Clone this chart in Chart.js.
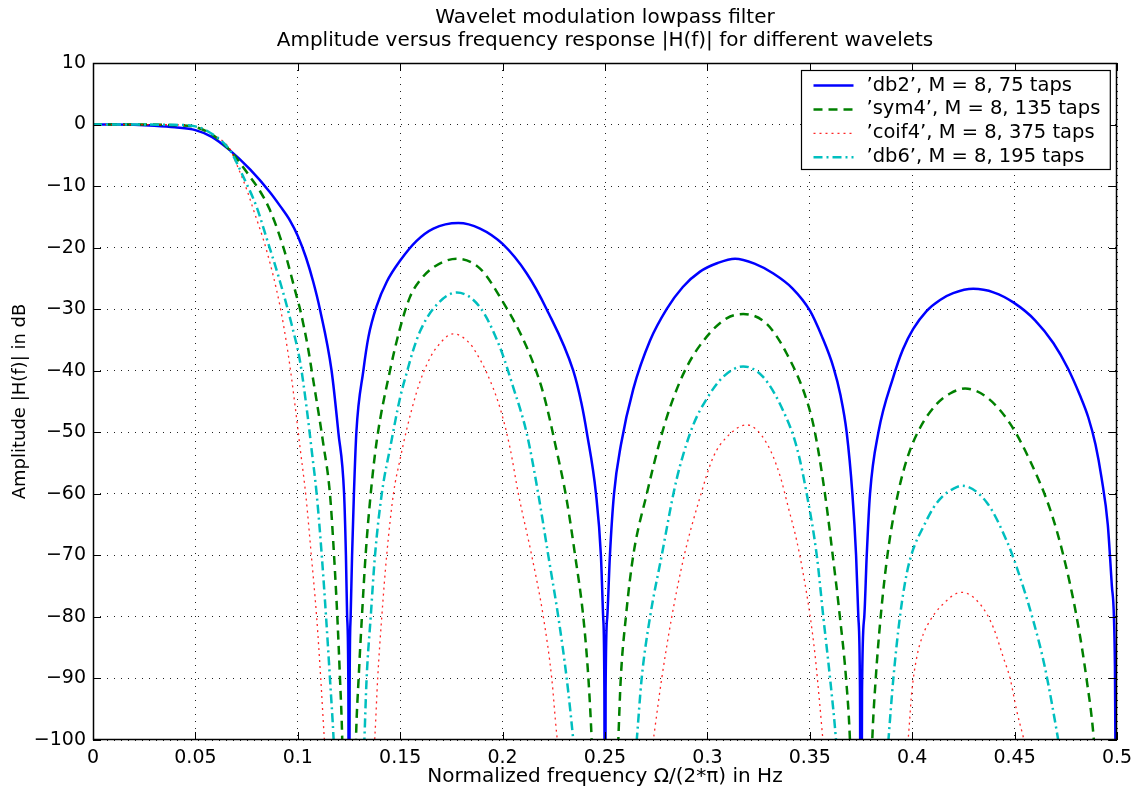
<!DOCTYPE html>
<html>
<head>
<meta charset="utf-8">
<script src="https://cdn.jsdelivr.net/npm/chart.js@4/dist/chart.umd.min.js"></script>
<style>
  html, body { margin: 0; padding: 0; background: #fff; }
</style>
</head>
<body>
<canvas id="myChart" width="1140" height="792"></canvas>
<script>
// values (frequency in Hz, amplitude in dB)
var db2Freq = [0, 0.01, 0.02, 0.03, 0.04, 0.05, 0.058, 0.0669, 0.0767, 0.0864,
  0.0915, 0.0962, 0.1, 0.104, 0.1075, 0.1108, 0.1165, 0.1198, 0.1226, 0.1235, 0.1241,
  0.1247, 0.125, 0.1253, 0.1258, 0.1265, 0.1274, 0.1286, 0.132, 0.1345, 0.1385,
  0.1435, 0.15, 0.158, 0.1662, 0.1784, 0.189, 0.2, 0.2118, 0.2215, 0.2345,
  0.2385, 0.2411, 0.2456, 0.248, 0.2491, 0.2497, 0.25, 0.2503, 0.2511, 0.2524,
  0.2544, 0.2578, 0.2638, 0.272, 0.2801, 0.288, 0.2964, 0.305, 0.3135, 0.323,
  0.3322, 0.3415, 0.35, 0.356, 0.3615, 0.365, 0.368, 0.3708, 0.3726, 0.3737,
  0.3745, 0.375, 0.3755, 0.3766, 0.3778, 0.3794, 0.3835, 0.3908, 0.3955, 0.4005,
  0.407, 0.4136, 0.42, 0.4298, 0.44, 0.4494, 0.46, 0.4689, 0.476, 0.4819,
  0.486, 0.4895, 0.4925, 0.4955, 0.4975, 0.499, 0.5]
var db2Amp = [0, 0, -0.05, -0.2, -0.45, -0.9, -2.0, -4.2, -7.3, -11.0,
  -13.3, -15.6, -18.1, -21.6, -25.5, -30, -40, -50, -60, -70, -80,
  -92, -150, -92, -80, -70, -60, -50, -40, -34.5, -29.5,
  -25.5, -22.1, -18.9, -16.9, -16.0, -16.9, -19.4, -24.2, -30, -40,
  -45.3, -50, -60, -70, -80, -92, -150, -92, -80, -70,
  -60, -52, -43, -35.1, -30.0, -26.4, -23.9, -22.5, -21.8, -22.6,
  -24.2, -26.6, -30.2, -34.5, -39.4, -44, -50, -60, -70, -80,
  -92, -150, -92, -80, -70, -60, -50, -41, -36.5, -33.2,
  -30.3, -28.5, -27.4, -26.7, -27.3, -28.9, -31.8, -35.5, -39.6, -44,
  -47.6, -52, -57.5, -65, -75, -88, -150]

var sym4Freq = [0, 0.02, 0.04, 0.05, 0.058, 0.0669, 0.0767, 0.0815, 0.0864, 0.093,
  0.0995, 0.1011, 0.1051, 0.1068, 0.1125, 0.1157, 0.1177, 0.1193, 0.1206, 0.1217,
  0.125, 0.1284, 0.1297, 0.1313, 0.1331, 0.1356, 0.1385, 0.145, 0.15, 0.1548,
  0.1597, 0.1662, 0.1776, 0.189, 0.1987, 0.2118, 0.2199, 0.2264, 0.2313, 0.2354, 0.2394,
  0.2419, 0.2435, 0.25, 0.2565, 0.2577, 0.2602, 0.2638, 0.2704, 0.2769, 0.2818,
  0.2899, 0.2996, 0.3094, 0.3175, 0.329, 0.3387, 0.3485, 0.3525, 0.3574, 0.3612,
  0.3647, 0.3677, 0.3696, 0.375, 0.3805, 0.3822, 0.3846, 0.3879, 0.3924, 0.3973,
  0.4038, 0.412, 0.4185, 0.4258, 0.4364, 0.4478, 0.4575, 0.4673, 0.4738, 0.4803,
  0.4851, 0.4887, 0.5]
var sym4Amp = [0, 0, -0.1, -0.4, -1.6, -4.2, -8.5, -10.8, -13.9, -20,
  -28, -30, -36.5, -40, -52, -60, -70, -80, -90, -100,
  -160, -100, -90, -80, -70, -60, -51.5, -40, -33, -28,
  -25.3, -23.2, -21.8, -23.4, -28, -36.2, -43.7, -53, -61, -70, -80,
  -90, -100, -160, -100, -90, -80, -70, -60, -51.3, -45.9,
  -39.4, -34.5, -31.5, -30.8, -32.4, -37.2, -44.8, -50, -60, -70,
  -80, -90, -100, -160, -100, -90, -80, -70, -61, -54.5,
  -49.3, -45.4, -43.7, -42.9, -44.3, -48.6, -54.6, -62.5, -70, -80,
  -90, -100, -160]

var coif4Freq = [0, 0.02, 0.04, 0.05, 0.058, 0.0669, 0.0702, 0.075, 0.0783, 0.0848,
  0.0913, 0.0954, 0.0986, 0.1011, 0.104, 0.1066, 0.1092, 0.1112, 0.1128, 0.125,
  0.1377, 0.139, 0.141, 0.1434, 0.1467, 0.15, 0.1532, 0.158, 0.1613, 0.1646,
  0.1678, 0.1759, 0.1841, 0.1873, 0.1922, 0.1987, 0.2036, 0.2077, 0.2142, 0.2199,
  0.224, 0.2264, 0.25, 0.274, 0.2777, 0.2826, 0.2887, 0.296, 0.3029, 0.3094,
  0.3192, 0.329, 0.3354, 0.3395, 0.3436, 0.3468, 0.35, 0.3525, 0.355, 0.3563,
  0.375, 0.3981, 0.3997, 0.4022, 0.4054, 0.4087, 0.4136, 0.4242, 0.4331, 0.4396,
  0.4445, 0.4478, 0.451, 0.4543, 0.5]
var coif4Amp = [0, 0, -0.05, -0.3, -1.6, -4, -6.5, -10.5, -13.8, -20.5,
  -29.5, -37.5, -45.5, -52.5, -60.5, -70, -80, -90, -99, -160,
  -99, -90, -80, -70, -60, -54.3, -49.5, -43.5, -40.3, -37.9,
  -36.2, -34, -35.6, -37.2, -40.3, -46, -52.5, -60, -70, -80,
  -90, -99, -160, -99, -90, -80, -70, -61, -54, -50.8,
  -48.8, -51.8, -57, -62.2, -67.6, -73, -79.5, -86, -94.7, -99.6,
  -160, -99.6, -92.5, -86.6, -82.8, -80.6, -78.4, -76, -77.9, -81.7,
  -86.6, -90, -95.2, -99.6, -160]

var db6Freq = [0, 0.02, 0.04, 0.05, 0.058, 0.0669, 0.0734, 0.0799, 0.0848, 0.0913,
  0.097, 0.1011, 0.1043, 0.1068, 0.1092, 0.1117, 0.1138, 0.1157, 0.1175, 0.125,
  0.1325, 0.1336, 0.1356, 0.1377, 0.141, 0.1454, 0.15, 0.1532, 0.1564, 0.1597,
  0.1662, 0.1776, 0.189, 0.1987, 0.2052, 0.2118, 0.2174, 0.2223, 0.2272, 0.2313,
  0.2345, 0.25, 0.2655, 0.2679, 0.272, 0.2777, 0.2834, 0.2866, 0.2931, 0.2996,
  0.3077, 0.3175, 0.3272, 0.337, 0.3436, 0.3485, 0.3534, 0.3566, 0.3599, 0.3628,
  0.375, 0.3884, 0.3908, 0.394, 0.3973, 0.4005, 0.4054, 0.4103, 0.4152, 0.42, 0.4242,
  0.4364, 0.4461, 0.451, 0.4591, 0.4648, 0.4713, 0.5]
var db6Amp = [0, 0, -0.05, -0.3, -1.5, -4.2, -8.5, -13.4, -18.5, -25.5,
  -32.5, -38.5, -46, -53, -60, -70, -80, -90, -100, -160,
  -100, -90, -80, -70, -60, -52, -44.3, -40.3, -36.6, -33.6,
  -29.9, -27.3, -29.7, -36.2, -42.7, -50.2, -60, -70, -80, -90,
  -100, -160, -100, -90, -80, -70, -60, -55.5, -48.8, -44.6,
  -41, -39.3, -41, -46.5, -52.4, -60, -70, -80, -90, -100,
  -160, -100, -90, -80, -73, -69, -65.4, -62.3, -60.3, -59.2, -58.7,
  -61.4, -67.6, -71.9, -80.6, -88.2, -100, -160]

var seriesLabels = ["\u2019db2\u2019, M = 8, 75 taps", "\u2019sym4\u2019, M = 8, 135 taps",
  "\u2019coif4\u2019, M = 8, 375 taps", "\u2019db6\u2019, M = 8, 195 taps"]
var titleLines = ["Wavelet modulation lowpass filter", "Amplitude versus frequency response |H(f)| for different wavelets"]
var xTicks = [0, 0.05, 0.1, 0.15, 0.2, 0.25, 0.3, 0.35, 0.4, 0.45, 0.5]
var yTicks = [10, 0, -10, -20, -30, -40, -50, -60, -70, -80, -90, -100]

var FONT = "'DejaVu Sans', 'Liberation Sans', Arial, sans-serif"

// title over the axes, box, inner tick marks and the boxed legend (MATLAB look)
var frameAndLegend = {
  id: "frameAndLegend",
  afterDatasetsDraw(chart) {
    var ctx = chart.ctx, a = chart.chartArea
    var xs = chart.scales.x, ys = chart.scales.y
    ctx.save()
    ctx.setLineDash([])
    ctx.strokeStyle = "#000"
    ctx.lineWidth = 1
    var tl = 8
    ctx.beginPath()
    xTicks.forEach(v => {
      var px = Math.round(xs.getPixelForValue(v)) + 0.5
      ctx.moveTo(px, a.bottom); ctx.lineTo(px, a.bottom - tl)
      ctx.moveTo(px, a.top); ctx.lineTo(px, a.top + tl)
    })
    yTicks.forEach(v => {
      var py = Math.round(ys.getPixelForValue(v)) + 0.5
      ctx.moveTo(a.left, py); ctx.lineTo(a.left + tl, py)
      ctx.moveTo(a.right, py); ctx.lineTo(a.right - tl, py)
    })
    ctx.stroke()
    ctx.lineWidth = 1.5
    ctx.strokeRect(Math.round(a.left) + 0.5, Math.round(a.top) + 0.5, Math.round(a.width) - 1, Math.round(a.height) - 1)

    // title, centred on the axes
    ctx.fillStyle = "#000"
    ctx.font = "20px " + FONT
    ctx.textAlign = "center"
    ctx.textBaseline = "middle"
    titleLines.forEach((t, i) => ctx.fillText(t, (a.left + a.right) / 2, 18 + i * 23))

    // legend
    ctx.font = "19.5px " + FONT
    var sets = chart.data.datasets
    var maxW = 0
    sets.forEach(d => { maxW = Math.max(maxW, ctx.measureText(d.label).width) })
    var sample = 40, padL = 12, gap = 13, padR = 10, rowH = 23.9
    var boxW = padL + sample + gap + maxW + padR
    var boxH = 99
    var bx = Math.round(a.right - 7 - boxW) + 0.5, by = Math.round(a.top + 7) + 0.5
    ctx.fillStyle = "#fff"
    ctx.fillRect(bx, by, boxW, boxH)
    ctx.lineWidth = 1.2
    ctx.strokeStyle = "#000"
    ctx.strokeRect(bx, by, boxW, boxH)
    sets.forEach((d, i) => {
      var cy = by + 15 + i * rowH
      ctx.save()
      ctx.strokeStyle = d.borderColor
      ctx.lineWidth = d.borderWidth
      ctx.setLineDash(d.borderDash)
      ctx.beginPath()
      ctx.moveTo(bx + padL, cy); ctx.lineTo(bx + padL + sample, cy)
      ctx.stroke()
      ctx.restore()
      ctx.fillStyle = "#000"
      ctx.textBaseline = "middle"
      ctx.textAlign = "left"
      ctx.fillText(d.label, bx + padL + sample + gap, cy)
    })
    ctx.restore()
  }
}

function makeSet(label, freq, amp, color, width, dash, order) {
  return {
    label: label,
    data: freq.map((f, i) => ({ x: f, y: amp[i] })),
    showLine: true,
    fill: false,
    cubicInterpolationMode: "monotone",
    pointRadius: 0,
    borderColor: color,
    borderWidth: width,
    borderDash: dash,
    order: order
  }
}

function main() {
  var ctx = document.getElementById("myChart")
  new Chart(ctx, {
    type: "scatter",
    data: {
      datasets: [
        makeSet(seriesLabels[0], db2Freq, db2Amp, "rgb(0,0,255)", 2.5, [], 3),
        makeSet(seriesLabels[1], sym4Freq, sym4Amp, "rgb(0,128,0)", 2.5, [9, 6], 2),
        makeSet(seriesLabels[2], coif4Freq, coif4Amp, "rgba(255,0,0,0.85)", 1.3, [2, 4], 1),
        makeSet(seriesLabels[3], db6Freq, db6Amp, "rgb(0,191,191)", 2.5, [9, 4, 2, 4], 0),
      ]
    },
    options: {
      responsive: false,
      animation: false,
      layout: { padding: { left: 0, right: 23, top: 63, bottom: 0 } },
      plugins: {
        legend: { display: false },
        tooltip: { enabled: false },
        title: { display: false }
      },
      scales: {
        x: {
          type: "linear", min: 0, max: 0.5,
          afterBuildTicks: function(s) { s.ticks = xTicks.map(v => ({ value: v })) },
          afterFit: function(s) { s.height = 52 },
          ticks: {
            color: "#000", padding: 7,
            font: { family: FONT, size: 19 },
            callback: v => String(+v.toFixed(2))
          },
          grid: { color: "#222", lineWidth: 1, drawTicks: false },
          border: { display: false, dash: [1, 6] },
          title: {
            display: true, text: "Normalized frequency \u03A9/(2*\u03C0) in Hz", color: "#000",
            font: { family: FONT, size: 20 }, padding: { top: 0, bottom: 3 }
          }
        },
        y: {
          type: "linear", min: -100, max: 10,
          afterBuildTicks: function(s) { s.ticks = yTicks.map(v => ({ value: v })) },
          afterFit: function(s) { s.width = 93 },
          ticks: {
            color: "#000", padding: 7,
            font: { family: FONT, size: 19 },
            callback: v => (v < 0 ? "\u2212" + Math.abs(v) : String(v))
          },
          grid: { color: "#222", lineWidth: 1, drawTicks: false },
          border: { display: false, dash: [1, 6] },
          title: {
            display: true, text: "Amplitude |H(f)| in dB", color: "#000",
            font: { family: FONT, size: 18 }, padding: { top: 10, bottom: 0 }
          }
        }
      }
    },
    plugins: [frameAndLegend]
  })
}

main()
</script>
</body>
</html>
